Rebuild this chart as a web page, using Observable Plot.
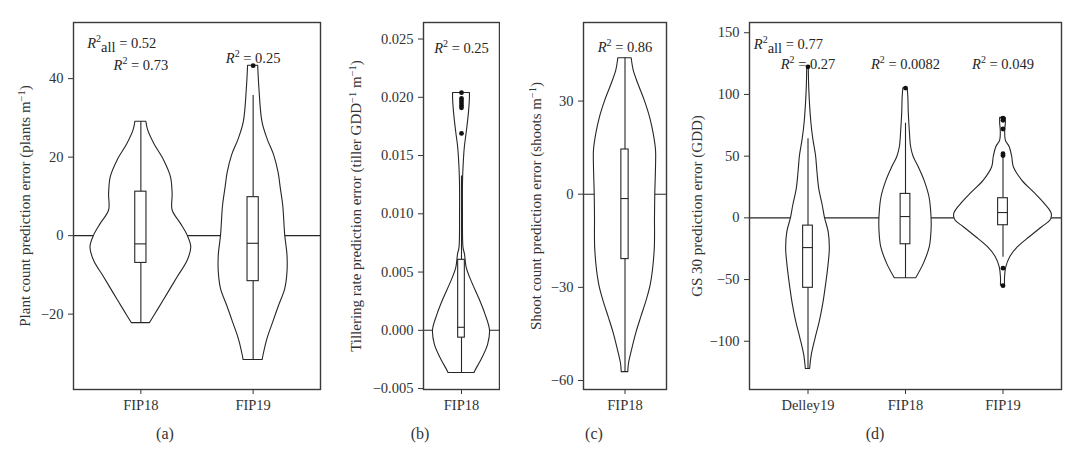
<!DOCTYPE html>
<html><head><meta charset="utf-8">
<script src="https://cdn.jsdelivr.net/npm/d3@7"></script>
<script src="https://cdn.jsdelivr.net/npm/@observablehq/plot@0.6"></script>
<style>
body{margin:0;background:#fff;}
#fig{position:relative;width:1080px;height:459px;font-family:"Liberation Serif",serif;color:#333;}
.panel{position:absolute;top:0;}
.cap{position:absolute;top:425px;font-size:16px;line-height:18px;transform:translateX(-50%);color:#333;}
</style></head><body><div id="fig"></div>
<script>
// ---------- DATA ----------
// violin outlines: [value, half-width (in category units)]
const aCats = ["FIP18", "FIP19"];
const aShapeFIP18 = [[-22.3,0.080],[-19.1,0.149],[-14.9,0.238],[-10.6,0.328],[-6.4,0.417],[-3.0,0.449],[0,0.417],[3.0,0.357],[6.4,0.283],[10.6,0.283],[14.9,0.268],[19.1,0.208],[23.4,0.119],[26.8,0.065],[29.0,0.049]];
const aShapeFIP19 = [[-31.7,0.085],[-30.6,0.092],[-26.3,0.128],[-22.1,0.179],[-17.8,0.232],[-13.6,0.286],[-9.3,0.306],[-5.1,0.306],[0,0.286],[7.6,0.268],[11.9,0.247],[16.1,0.226],[20.4,0.188],[24.6,0.128],[28.9,0.083],[37.4,0.056],[43.3,0.045]];
const aBoxes = [{cat:0, lo:-22.3, q1:-6.95, med:-2.1, q3:11.2, hi:29.0},{cat:1, lo:-31.7, q1:-11.6, med:-1.95, q3:9.8, hi:35.7}];
const aOutliers = [{cat:1, v:43.3}];
const aR2 = [{cat:0, r2:"0.73"},{cat:1, r2:"0.25"}];
const aR2all = "0.52";
const aTicks = [-20, 0, 20, 40];

const bCats = ["FIP18"];
const bShapeFIP18 = [[-0.00367,0.195],[-0.00353,0.205],[-0.00238,0.315],[-0.00123,0.40],[0,0.427],[0.00135,0.36],[0.00278,0.262],[0.00422,0.15],[0.00536,0.078],[0.00651,0.052],[0.00708,0.030],[0.0100,0.022],[0.01282,0.023],[0.01426,0.033],[0.01569,0.05],[0.01713,0.082],[0.01856,0.11],[0.0197,0.125],[0.02037,0.127]];
const bBoxes = [{cat:0, lo:-0.00367, q1:-0.00063, med:0.00026, q3:0.00605, hi:0.01325}];
const bOutliers = [{cat:0,v:0.0204},{cat:0,v:0.0199},{cat:0,v:0.0197},{cat:0,v:0.0195},{cat:0,v:0.0193},{cat:0,v:0.0191},{cat:0,v:0.0169}];
const bR2 = [{cat:0, r2:"0.25"}];
const bTicks = [-0.005, 0, 0.005, 0.010, 0.015, 0.020, 0.025];

const cCats = ["FIP18"];
const cShapeFIP18 = [[-57.3,0.045],[-54.6,0.055],[-50.3,0.096],[-44.9,0.154],[-39.6,0.224],[-34.2,0.298],[-28.8,0.357],[-18.1,0.408],[-7.4,0.412],[0,0.416],[8.7,0.426],[14.1,0.426],[19.4,0.394],[24.8,0.343],[30.2,0.27],[35.5,0.183],[39.8,0.12],[43.8,0.092]];
const cBoxes = [{cat:0, lo:-57.3, q1:-20.9, med:-1.4, q3:14.4, hi:43.8}];
const cOutliers = [];
const cR2 = [{cat:0, r2:"0.86"}];
const cTicks = [-60, -30, 0, 30];

const dCats = ["Delley19", "FIP18", "FIP19"];
const dShapeDelley19 = [[-122.5,0.022],[-111.6,0.038],[-98,0.077],[-84.6,0.12],[-71,0.154],[-57.5,0.18],[-38.7,0.21],[-25,0.224],[-11.6,0.212],[0,0.174],[10,0.151],[23.5,0.115],[37,0.097],[50.5,0.082],[64,0.054],[77.5,0.034],[104.5,0.013],[122.4,0.008]];
const dShapeFIP18 = [[-48.9,0.11],[-37.3,0.188],[-23.8,0.249],[-10.3,0.267],[0.5,0.267],[16.7,0.246],[30.2,0.195],[41,0.136],[49.1,0.085],[57.2,0.058],[70.8,0.044],[84.3,0.034],[97.7,0.029],[105,0.022]];
const dShapeFIP19 = [[-54.9,0.021],[-48.1,0.021],[-40,0.034],[-31.9,0.074],[-23.8,0.154],[-15.7,0.274],[-7.6,0.402],[-2.2,0.487],[3.2,0.5],[11.3,0.428],[19.4,0.333],[30.2,0.197],[41,0.111],[49.1,0.095],[57.2,0.069],[62.6,0.029],[70.8,0.023],[76.2,0.029],[81,0.029]];
const dBoxes = [{cat:0, lo:-122.5, q1:-56.7, med:-24.1, q3:-6.3, hi:64},{cat:1, lo:-48.9, q1:-21.4, med:1.05, q3:19.4, hi:76.7},{cat:2, lo:-31.9, q1:-6, med:4.3, q3:15.9, hi:49}];
const dOutliers = [{cat:0,v:122.4},{cat:1,v:105.2},{cat:2,v:80.7},{cat:2,v:79},{cat:2,v:72},{cat:2,v:52},{cat:2,v:50.5},{cat:2,v:-40.8},{cat:2,v:-55}];
const dR2 = [{cat:0, r2:"0.27"},{cat:1, r2:"0.0082"},{cat:2, r2:"0.049"}];
const dR2all = "0.77";
const dTicks = [-100, -50, 0, 50, 100, 150];

// ---------- DRAWING ----------
const INK = "#262626";
const BOXW = 0.05;

function richText(svg) {
  d3.select(svg).selectAll("text").each(function () {
    const m = this.textContent.match(/^R2(all)? = (.+)$/);
    if (!m) return;
    const t = d3.select(this); t.text(null);
    t.append("tspan").attr("font-style", "italic").text("R");
    t.append("tspan").attr("font-size", "10px").attr("dy", "-6").text("2");
    if (m[1]) {
      t.append("tspan").attr("dy", "10").text("all");
      t.append("tspan").attr("dy", "-4").text(" = " + m[2]);
    } else {
      t.append("tspan").attr("dy", "6").text(" = " + m[2]);
    }
  });
  d3.select(svg).selectAll('g[aria-label="y-axis label"] text').each(function () {
    const parts = this.textContent.replace(/^[↑↓]\s*/, "").split(/(\{[^}]*\})/);
    const t = d3.select(this); t.text(null).attr("font-size", "15px");
    let up = false;
    for (const p of parts) {
      if (!p) continue;
      if (p.startsWith("{")) { t.append("tspan").attr("font-size", "10.5px").attr("dy", "-5").text(p.slice(1, -1)); up = true; }
      else { const s = t.append("tspan").text(p); if (up) { s.attr("dy", "5"); up = false; } }
    }
  });
}

function panel(cfg) {
  const rows = cfg.shapes.flatMap((s, i) => s.map(([v, w]) => ({cat: i, v, w})));
  const marks = [
    Plot.ruleY([0], {stroke: INK, strokeWidth: 1.1}),
    Plot.areaX(rows, {y: "v", x1: d => d.cat - d.w, x2: d => d.cat + d.w, z: "cat", fill: "white", stroke: INK, strokeWidth: 1.1, curve: "catmull-rom"}),
    Plot.ruleX(cfg.boxes, {x: "cat", y1: "lo", y2: "hi", stroke: INK, strokeWidth: 1.1}),
    Plot.rect(cfg.boxes, {x1: d => d.cat - BOXW, x2: d => d.cat + BOXW, y1: "q1", y2: "q3", fill: "white", stroke: INK, strokeWidth: 1.1}),
    Plot.ruleY(cfg.boxes, {y: "med", x1: d => d.cat - BOXW, x2: d => d.cat + BOXW, stroke: INK, strokeWidth: 1.1}),
    Plot.dot(cfg.outliers, {x: "cat", y: "v", r: 2.4, fill: "#111", stroke: null}),
    ...cfg.r2.map((d, i) => Plot.text([d], {x: "cat", frameAnchor: "top", dy: cfg.r2dy[i], text: e => "R2 = " + e.r2, fontSize: 14.5, fill: INK})),
    Plot.frame({stroke: "#3a3a3a", strokeWidth: 1.4})
  ];
  if (cfg.r2all) marks.push(Plot.text([cfg.r2all], {frameAnchor: "top-left", textAnchor: "start", dx: cfg.allDx, dy: cfg.allDy, text: d => "R2all = " + d, fontSize: 14.5, fill: INK}));
  const svg = Plot.plot({
    width: cfg.width, height: 415,
    marginLeft: cfg.marginLeft, marginRight: cfg.marginRight, marginTop: 22, marginBottom: 26,
    style: {fontFamily: "Liberation Serif", fontSize: "14.5px", color: "#333", background: "white"},
    x: {domain: cfg.xDomain, ticks: cfg.cats.map((_, i) => i), tickFormat: i => cfg.cats[i], tickSize: 5, tickPadding: 5, label: null},
    y: {domain: cfg.yDomain, ticks: cfg.yTicks, tickFormat: cfg.yFormat, tickSize: 5, tickPadding: 5, label: cfg.yLabel, labelAnchor: "center", labelOffset: cfg.labelOffset, labelArrow: "none"},
    marks
  });
  richText(svg);
  const wrap = document.createElement("div");
  wrap.className = "panel"; wrap.style.left = cfg.left + "px";
  wrap.appendChild(svg);
  const fig = document.getElementById("fig");
  fig.appendChild(wrap);
  const cap = document.createElement("div");
  cap.className = "cap"; cap.style.left = cfg.capX + "px"; cap.textContent = cfg.caption;
  fig.appendChild(cap);
}

panel({left: 0, width: 330, marginLeft: 73, marginRight: 10, xDomain: [-0.6, 1.6], yDomain: [-39.2, 54.3],
  cats: aCats, shapes: [aShapeFIP18, aShapeFIP19], boxes: aBoxes, outliers: aOutliers,
  yTicks: aTicks, yFormat: d3.format("d"), yLabel: "Plant count prediction error (plants m{−1})", labelOffset: 54.5,
  r2: aR2, r2dy: [37.7, 30], r2all: aR2all, allDx: 13.7, allDy: 15.4, capX: 165, caption: "(a)"});

panel({left: 335, width: 170, marginLeft: 88, marginRight: 6, xDomain: [-0.57, 0.57], yDomain: [-0.00508, 0.02642],
  cats: bCats, shapes: [bShapeFIP18], boxes: bBoxes, outliers: bOutliers,
  yTicks: bTicks, yFormat: d3.format(".3f"), yLabel: "Tillering rate prediction error (tiller GDD{−1} m{−1})", labelOffset: 73,
  r2: bR2, r2dy: [20], capX: 420, caption: "(b)"});

panel({left: 500, width: 170, marginLeft: 83, marginRight: 4, xDomain: [-0.57, 0.57], yDomain: [-62.9, 55.3],
  cats: cCats, shapes: [cShapeFIP18], boxes: cBoxes, outliers: cOutliers,
  yTicks: cTicks, yFormat: d3.format("d"), yLabel: "Shoot count prediction error (shoots m{−1})", labelOffset: 53,
  r2: cR2, r2dy: [19.4], capX: 594, caption: "(c)"});

panel({left: 680, width: 390, marginLeft: 69, marginRight: 9, xDomain: [-0.6, 2.6], yDomain: [-139.1, 158.3],
  cats: dCats, shapes: [dShapeDelley19, dShapeFIP18, dShapeFIP19], boxes: dBoxes, outliers: dOutliers,
  yTicks: dTicks, yFormat: d3.format("d"), yLabel: "GS 30 prediction error (GDD)", labelOffset: 58,
  r2: dR2, r2dy: [36.7, 36.7, 36.7], r2all: dR2all, allDx: 4.3, allDy: 16, capX: 875, caption: "(d)"});
</script>
</body></html>
